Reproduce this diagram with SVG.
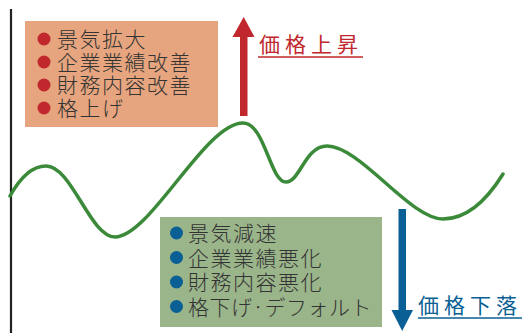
<svg xmlns="http://www.w3.org/2000/svg" width="524" height="333" viewBox="0 0 524 333">
<style>
.t{font-family:"Noto Sans CJK JP","Noto Sans",sans-serif;font-size:21px;font-weight:300;fill:#333;letter-spacing:1.5px}
.h{font-family:"Noto Sans CJK JP","Noto Sans",sans-serif;font-size:21px;letter-spacing:5px}
</style>
<rect width="524" height="333" fill="#fff"/>
<line x1="11" y1="9" x2="11" y2="333" stroke="#222" stroke-width="2.2"/>
<g id="curve">
<path d="M10,196 C20,178 32,166 46,166 C72,166 90,237 115,237 C150,237 205,123 243,123 C265,123 270,182 286,182 C300,182 305,146 327,146 C360,146 410,219 443,219 C470,219 490,195 503,174" fill="none" stroke="#3A8A3A" stroke-width="3.5" stroke-linecap="round"/>
</g>
<g id="up-box">
<rect x="25" y="21" width="193" height="106" fill="#E6A57E"/>
<g fill="#C0282D">
<circle cx="44" cy="39" r="6.5"/><circle cx="44" cy="62" r="6.5"/><circle cx="44" cy="85" r="6.5"/><circle cx="44" cy="108" r="6.5"/>
</g>
<text class="t" x="57" y="47">景気拡大</text>
<text class="t" x="57" y="70">企業業績改善</text>
<text class="t" x="57" y="93">財務内容改善</text>
<text class="t" x="57" y="116">格上げ</text>
</g>
<g id="down-box">
<rect x="160" y="217" width="222" height="110" fill="#9BB58B"/>
<g fill="#0A5F94">
<circle cx="176.5" cy="233" r="6.5"/><circle cx="176.5" cy="257.5" r="6.5"/><circle cx="176.5" cy="282" r="6.5"/><circle cx="176.5" cy="306.5" r="6.5"/>
</g>
<text class="t" x="188" y="241">景気減速</text>
<text class="t" x="188" y="265.5">企業業績悪化</text>
<text class="t" x="188" y="290">財務内容悪化</text>
<text class="t" x="188" y="314.5" style="letter-spacing:0.5px">格下げ·デフォルト</text>
</g>
<g id="connectors">
<g id="up-arrow" fill="#C0282D">
<rect x="240" y="35" width="7.5" height="81"/>
<polygon points="232.5,37 254.5,37 243.7,17"/>
</g>
<g id="down-arrow" fill="#0A5F94">
<rect x="398.5" y="209" width="7.5" height="103"/>
<polygon points="391.5,310 413,310 402.2,331"/>
</g>
</g>
<g id="up-label">
<text class="h" x="259" y="52" fill="#C0282D">価格上昇</text>
<line x1="258" y1="57" x2="363" y2="57" stroke="#C0282D" stroke-width="1.5"/>
</g>
<g id="down-label">
<text class="h" x="418" y="313" fill="#0A5F94">価格下落</text>
<line x1="418" y1="318" x2="522" y2="318" stroke="#0A5F94" stroke-width="1.5"/>
</g>
</svg>
